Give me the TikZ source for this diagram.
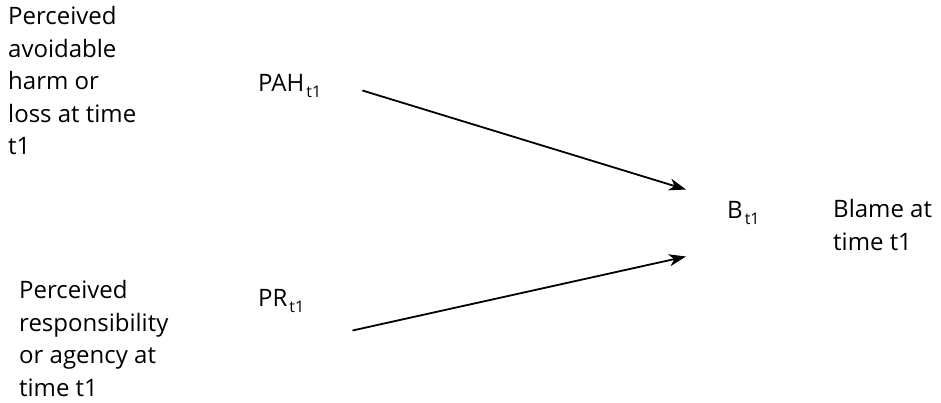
\documentclass[tikz,border=0pt]{standalone}
\usepackage{fontspec}
\setmainfont{Open Sans}
\usetikzlibrary{arrows.meta}
\newcommand{\sub}[1]{\hspace{2pt}\raisebox{-6pt}{\fontsize{16}{16}\selectfont #1}}
\tikzset{
  lbl/.style={anchor=base west, inner sep=0pt, align=left,
    font=\fontsize{24}{32.5}\selectfont},
  var/.style={anchor=base west, inner sep=0pt,
    font=\fontsize{24}{25}\selectfont},
  arr/.style={line width=1.8pt, -{Stealth[length=17pt,width=12pt,inset=5pt]}}
}
\begin{document}
\begin{tikzpicture}[x=1pt,y=1pt]
  \useasboundingbox (0,0) rectangle (941,402);
  % descriptive labels (anchored at the baseline of their last line)
  \node[lbl] (harm) at (8,247) {Perceived\\avoidable\\harm or\\loss at time\\t1};
  \node[lbl] (resp) at (19,6) {Perceived\\responsibility\\or agency at\\time t1};
  \node[lbl] (blame) at (833,152) {Blame at\\time t1};
  % variables
  \node[var] (pah) at (258,310) {PAH\sub{t1}};
  \node[var] (pr) at (258,96) {PR\sub{t1}};
  \node[var] (b) at (727,184) {B\sub{t1}};
  % paths
  \draw[arr] ([shift={(41,-4)}]pah.east) -- ([shift={(-41,23)}]b.west);
  \draw[arr] ([shift={(48,-30)}]pr.east) -- ([shift={(-41,-44)}]b.west);
\end{tikzpicture}
\end{document}
